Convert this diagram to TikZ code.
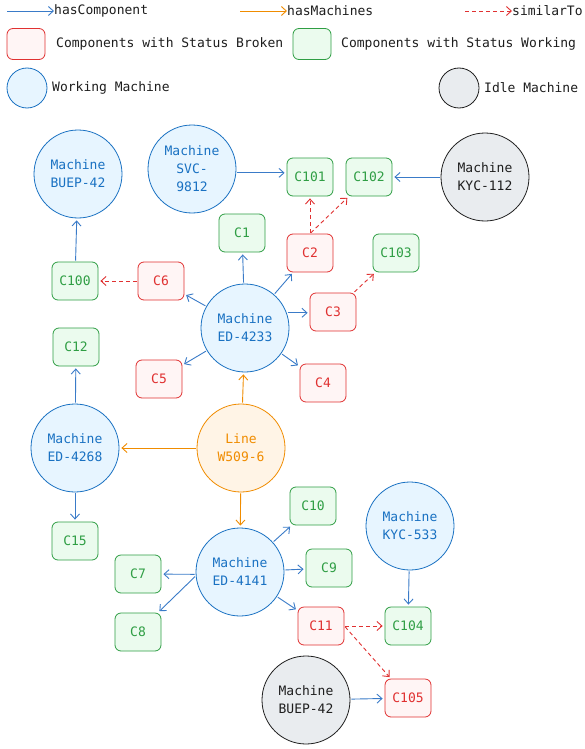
\documentclass[tikz,border=0pt]{standalone}
\usepackage{fontspec}
\setmonofont{DejaVu Sans Mono}
\usetikzlibrary{arrows.meta}
\definecolor{bstroke}{HTML}{1971C2}
\definecolor{bfill}{HTML}{E7F5FF}
\definecolor{rstroke}{HTML}{E03131}
\definecolor{rfill}{HTML}{FFF5F5}
\definecolor{gstroke}{HTML}{2F9E44}
\definecolor{gfill}{HTML}{EBFBEE}
\definecolor{ostroke}{HTML}{F08C00}
\definecolor{ofill}{HTML}{FFF4E6}
\definecolor{kstroke}{HTML}{1E1E1E}
\definecolor{kfill}{HTML}{E9ECEF}
\definecolor{edgeblue}{HTML}{3A7BC8}
\tikzset{
  every node/.style={font=\ttfamily\fontsize{13}{18}\selectfont},
  working/.style={circle,draw=bstroke,fill=bfill,text=bstroke,minimum size=88pt,inner sep=0pt,align=center,line width=0.8pt},
  idle/.style={circle,draw=kstroke,fill=kfill,text=kstroke,minimum size=88pt,inner sep=0pt,align=center,line width=0.8pt},
  lineM/.style={circle,draw=ostroke,fill=ofill,text=ostroke,minimum size=88pt,inner sep=0pt,align=center,line width=0.8pt},
  broken/.style={rectangle,rounded corners=6pt,draw=rstroke,fill=rfill,text=rstroke,minimum width=46pt,minimum height=38pt,inner sep=0pt,line width=0.8pt},
  okcomp/.style={rectangle,rounded corners=6pt,draw=gstroke,fill=gfill,text=gstroke,minimum width=46pt,minimum height=38pt,inner sep=0pt,line width=0.8pt},
  legtext/.style={anchor=west,inner sep=0pt,text=kstroke},
  comp/.style={draw=edgeblue,line width=0.9pt,-{Straight Barb[length=5pt,width=9pt]},shorten >=2pt,shorten <=1pt},
  mach/.style={draw=ostroke,line width=0.9pt,-{Straight Barb[length=5pt,width=9pt]},shorten >=2pt,shorten <=1pt},
  sim/.style={draw=rstroke,line width=0.9pt,dash pattern=on 4pt off 3pt,-{Straight Barb[length=5pt,width=9pt]},shorten >=2pt,shorten <=1pt},
}
\begin{document}
\begin{tikzpicture}[x=1pt,y=-1pt]
\useasboundingbox (0,0) rectangle (584,749);
\fill[white] (0,0) rectangle (584,749);

% Legend
\coordinate (lc) at (7,11);
\node[legtext] (tcomp) at (54,11) {hasComponent};
\draw[comp,shorten >=0pt,shorten <=0pt] (lc) -- (tcomp.west);
\coordinate (lm) at (240,11);
\node[legtext] (tmach) at (287,11) {hasMachines};
\draw[mach,shorten >=0pt,shorten <=0pt] (lm) -- (tmach.west);
\coordinate (ls) at (465,11);
\node[legtext] (tsim) at (512,11) {similarTo};
\draw[sim,shorten >=0pt,shorten <=0pt] (ls) -- (tsim.west);

\node[broken,minimum width=38pt,minimum height=31pt] (lbroken) at (26,44) {};
\node[legtext] (tbroken) at (56,44) {Components with Status Broken};
\node[okcomp,minimum width=38pt,minimum height=31pt] (lok) at (312,44) {};
\node[legtext] (tok) at (341,44) {Components with Status Working};
\node[working,minimum size=40pt] (lwork) at (27,88) {};
\node[legtext] (twork) at (52,88) {Working Machine};
\node[idle,minimum size=40pt] (lidle) at (459,88) {};
\node[legtext] (tidle) at (484,88) {Idle Machine};

% Machines
\node[working] (buepA) at (78,174) {Machine\\BUEP-42};
\node[working] (svc) at (192,169) {Machine\\SVC-\\9812};
\node[idle] (kyc112) at (485,177) {Machine\\KYC-112};
\node[working] (ed4233) at (245,328) {Machine\\ED-4233};
\node[working] (ed4268) at (75,448) {Machine\\ED-4268};
\node[lineM] (line) at (241,448) {Line\\W509-6};
\node[working] (kyc533) at (410,526) {Machine\\KYC-533};
\node[working] (ed4141) at (240,572) {Machine\\ED-4141};
\node[idle] (buepB) at (306,700) {Machine\\BUEP-42};

% Components
\node[okcomp] (c101) at (310,177) {C101};
\node[okcomp] (c102) at (369,177) {C102};
\node[okcomp] (c1) at (242,233) {C1};
\node[broken] (c2) at (310,253) {C2};
\node[okcomp] (c103) at (396,253) {C103};
\node[okcomp] (c100) at (75,281) {C100};
\node[broken] (c6) at (161,281) {C6};
\node[broken] (c3) at (333,312) {C3};
\node[okcomp] (c12) at (76,347) {C12};
\node[broken] (c5) at (159,379) {C5};
\node[broken] (c4) at (323,383) {C4};
\node[okcomp] (c10) at (313,506) {C10};
\node[okcomp] (c15) at (75,541) {C15};
\node[okcomp] (c9) at (329,568) {C9};
\node[okcomp] (c7) at (138,574) {C7};
\node[okcomp] (c8) at (138,632) {C8};
\node[broken] (c11) at (321,626) {C11};
\node[okcomp] (c104) at (408,626) {C104};
\node[broken] (c105) at (408,698) {C105};

% hasComponent
\draw[comp] (svc.-5) -- (svc.-5 -| c101.west);
\draw[comp] (kyc112) -- (c102);
\draw[comp] (c100) -- (buepA);
\draw[comp] (ed4233) -- (c1);
\draw[comp] (ed4233) -- (c2);
\draw[comp] (ed4233) -- (c6);
\draw[comp] (ed4233.20) -- (ed4233.20 -| c3.west);
\draw[comp] (ed4233) -- (c5);
\draw[comp] (ed4233) -- (c4);
\draw[comp] (ed4268) -- (c12);
\draw[comp] (ed4268) -- (c15);
\draw[comp] (ed4141) -- (c10);
\draw[comp] (ed4141) -- (c9);
\draw[comp] (ed4141.183) -- (c7);
\draw[comp] (ed4141.185) -- (c8);
\draw[comp] (ed4141) -- (c11);
\draw[comp] (kyc533) -- (c104);
\draw[comp] (buepB) -- (c105);

% hasMachines
\draw[mach] (line) -- (ed4233);
\draw[mach] (line) -- (ed4268);
\draw[mach] (line) -- (ed4141);

% similarTo
\draw[sim] (c6) -- (c100);
\draw[sim] (c2) -- (c101);
\draw[sim] (c2.north) -- (c102);
\draw[sim] (c3) -- (c103);
\draw[sim] (c11.east) -- (c104);
\draw[sim] (c11.east) -- (c105);
\end{tikzpicture}
\end{document}
